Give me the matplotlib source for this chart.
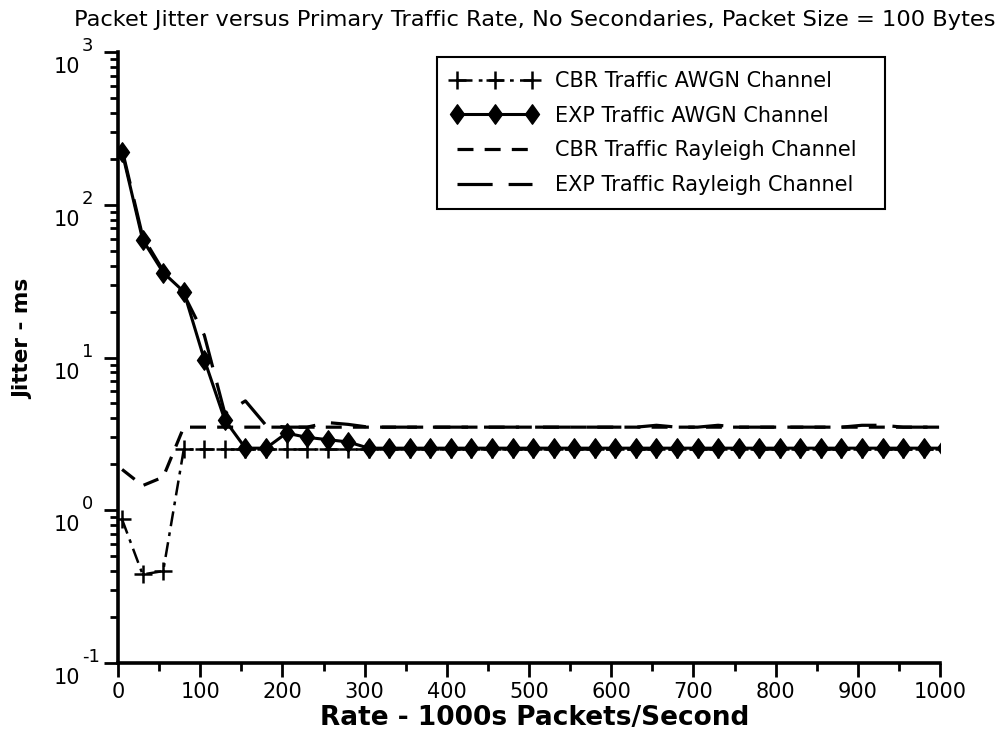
import matplotlib
matplotlib.use("Agg")
import matplotlib.pyplot as plt
import matplotlib.transforms as mtransforms
from matplotlib.path import Path
from matplotlib.ticker import FixedLocator, LogLocator, NullFormatter, MultipleLocator

plt.rcParams['font.family'] = ['DejaVu Sans']

# rate axis, thousands of packets per second (one point every 25)
rate = list(range(5, 1006, 25))

# jitter in ms
cbr_awgn = [0.87, 0.38, 0.40, 2.5, 2.5, 2.5, 2.5, 2.5, 2.5, 2.5, 2.5, 2.5] + [2.5] * 29
exp_awgn = [222, 59, 36, 27, 9.7, 3.9, 2.55, 2.55, 3.2, 3.0, 2.9, 2.8] + [2.55] * 29
cbr_rayleigh = [1.85, 1.45, 1.65, 3.5, 3.5, 3.5, 3.5, 3.5, 3.5, 3.5, 3.5, 3.5] + [3.5] * 29
exp_rayleigh = [230, 62, 37, 26, 14, 4.3, 5.2, 3.6, 3.5, 3.5, 3.75, 3.65,
                3.5, 3.5, 3.5, 3.5, 3.5, 3.5, 3.5, 3.5, 3.5, 3.5, 3.5, 3.5,
                3.5, 3.5, 3.6, 3.5, 3.5, 3.6, 3.5, 3.5, 3.5, 3.5, 3.5, 3.5,
                3.6, 3.6, 3.5, 3.5, 3.5]

labels = ['CBR Traffic AWGN Channel', 'EXP Traffic AWGN Channel',
          'CBR Traffic Rayleigh Channel', 'EXP Traffic Rayleigh Channel']
decades = [0.1, 1, 10, 100, 1000]
exponents = ['-1', '0', '1', '2', '3']

# slightly tall diamond like the original plot
diamond = Path([(0, 1), (0.72, 0), (0, -1), (-0.72, 0), (0, 1)],
               [Path.MOVETO, Path.LINETO, Path.LINETO, Path.LINETO, Path.CLOSEPOLY])

fig = plt.figure(figsize=(10.05, 7.37), dpi=100)
ax = fig.add_axes([0.1174, 0.1004, 0.818, 0.829])

ax.plot(rate, cbr_awgn, color='black', lw=1.8, linestyle=(0, (6, 2.5, 1.5, 2.5)),
        marker='+', markersize=13, markeredgewidth=1.8, label=labels[0], zorder=2)
ax.plot(rate, exp_awgn, color='black', lw=2.2, linestyle='-',
        marker=diamond, markersize=14, label=labels[1], zorder=4)
ax.plot(rate, cbr_rayleigh, color='black', lw=2.3, linestyle=(0, (5, 3.5)),
        label=labels[2], zorder=3)
ax.plot(rate, exp_rayleigh, color='black', lw=2.3, linestyle=(0, (11, 5)),
        label=labels[3], zorder=3)

ax.set_yscale('log')
ax.set_xlim(0, 1000)
ax.set_ylim(0.1, 1000)

for side in ['top', 'right']:
    ax.spines[side].set_visible(False)
for side in ['left', 'bottom']:
    ax.spines[side].set_linewidth(2.6)

ax.xaxis.set_major_locator(MultipleLocator(100))
ax.xaxis.set_minor_locator(MultipleLocator(50))
ax.yaxis.set_major_locator(FixedLocator(decades))
ax.yaxis.set_minor_locator(LogLocator(base=10, subs=range(2, 10)))
ax.yaxis.set_minor_formatter(NullFormatter())
ax.yaxis.set_major_formatter(NullFormatter())
ax.tick_params(axis='both', which='major', direction='out', length=10, width=2, labelsize=15)
ax.tick_params(axis='both', which='minor', direction='out', length=6, width=2)
ax.tick_params(axis='x', pad=4)

# y labels as "10" with a raised exponent, drawn as in the original
ytrans = ax.get_yaxis_transform()
for val, ex in zip(decades, exponents):
    base_tr = ytrans + mtransforms.ScaledTranslation(-0.38, -0.15, fig.dpi_scale_trans)
    ax.text(0, val, '10', transform=base_tr, ha='right', va='center', fontsize=15,
            clip_on=False)
    exp_tr = ytrans + mtransforms.ScaledTranslation(-0.36, 0.06, fig.dpi_scale_trans)
    ax.text(0, val, ex, transform=exp_tr, ha='left', va='center', fontsize=13,
            clip_on=False)

ax.set_xlabel('Rate - 1000s Packets/Second', fontsize=19, fontweight='bold')
ax.xaxis.set_label_coords(0.507, -0.068)
ax.set_ylabel('Jitter - ms', fontsize=15.5, fontweight='bold')
ax.yaxis.set_label_coords(-0.103, 0.53)
fig.text(0.532, 0.973, 'Packet Jitter versus Primary Traffic Rate, No Secondaries, '
         'Packet Size = 100 Bytes', ha='center', va='center', fontsize=16.2)

leg = ax.legend(loc='upper left', bbox_to_anchor=(0.388, 0.745, 0.545, 0.247),
                mode='expand', borderaxespad=0, fontsize=15, numpoints=3,
                handlelength=4.2, handletextpad=0.8, labelspacing=0.7,
                borderpad=0.68, fancybox=False, framealpha=1)
leg.get_frame().set_edgecolor('black')
leg.get_frame().set_linewidth(1.5)

fig.savefig('out.png', dpi=100)
